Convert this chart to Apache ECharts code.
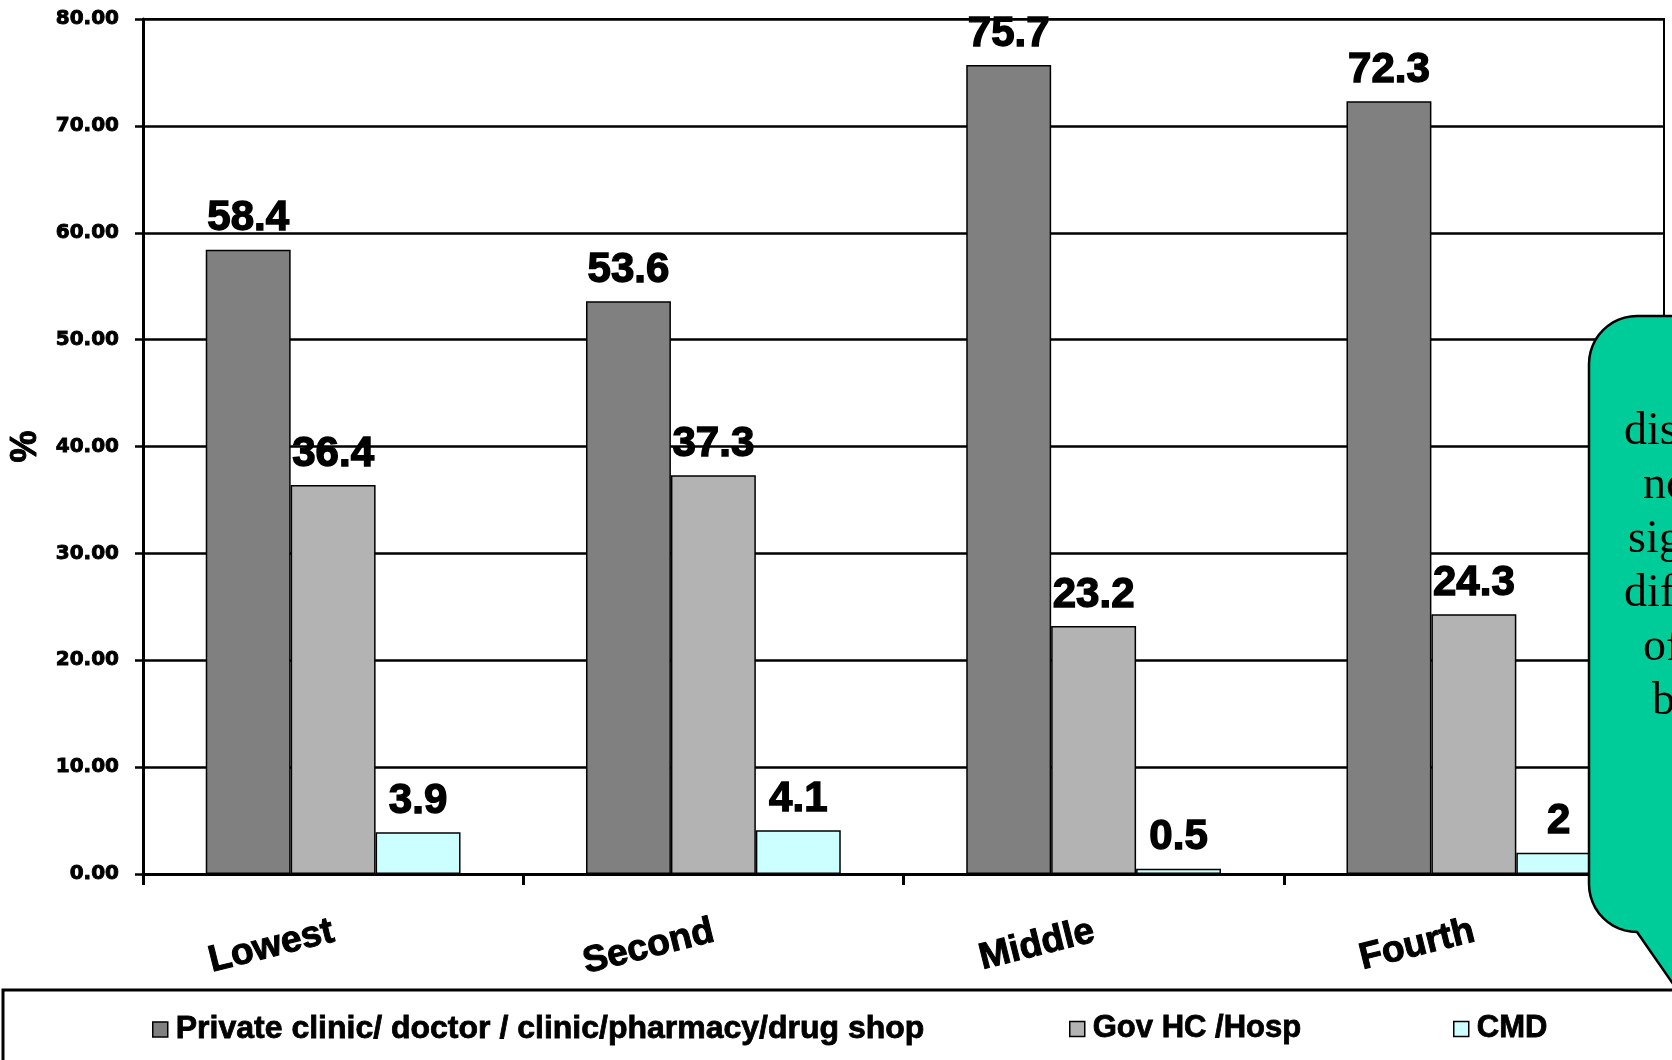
<!DOCTYPE html>
<html>
<head>
<meta charset="utf-8">
<title>Source of care by wealth quintile</title>
<script src="https://cdn.jsdelivr.net/npm/echarts@6/dist/echarts.min.js"></script>
<style>
  html, body { margin: 0; padding: 0; background: #ffffff; }
  #chart { width: 1672px; height: 1060px; }
</style>
</head>
<body>
<div id="chart"></div>
<script>
// Wealth quintiles shown on the category axis
const categories = ['Lowest', 'Second', 'Middle', 'Fourth'];

// Share (%) of each source of care per quintile
const privateShare = [58.4, 53.6, 75.7, 72.3];
const govShare = [36.4, 37.3, 23.2, 24.3];
const cmdShare = [3.9, 4.1, 0.5, 2];

// Series names as listed in the legend
const seriesNames = [
  'Private clinic/ doctor / clinic/pharmacy/drug shop',
  'Gov HC /Hosp',
  'CMD'
];

// Lines of the note in the speech bubble (runs off the right edge)
const noteLines = ['dis', 'no', 'sig', 'dif', 'of', 'b'];

const BOLD = '"Liberation Sans", Arial, sans-serif';
// Heavy black text: bold face plus a thin outline of the same colour
const heavy = (size, extra) => Object.assign({
  color: '#000',
  fontFamily: BOLD,
  fontWeight: 'bold',
  fontSize: size,
  textBorderColor: '#000',
  textBorderWidth: 1
}, extra || {});

const chart = echarts.init(document.getElementById('chart'), null, { renderer: 'canvas' });

const valueLabel = heavy(42, {
  show: true,
  position: 'top',
  distance: 10,
  textBorderWidth: 1.4,
  formatter: p => String(p.value)
});

function barSeries(name, data, color) {
  return {
    name: name,
    type: 'bar',
    data: data,
    barGap: '0%',
    barCategoryGap: '33%',
    itemStyle: { color: color, borderColor: '#000', borderWidth: 1.5 },
    label: valueLabel,
    emphasis: { disabled: true }
  };
}

function legendAt(name, left, size) {
  return {
    data: [name],
    left: left,
    top: 1013,
    padding: 0,
    icon: 'rect',
    itemWidth: 15,
    itemHeight: 15,
    itemGap: 0,
    selectedMode: false,
    itemStyle: { borderColor: '#000', borderWidth: 1.5 },
    textStyle: heavy(size, { padding: [0, 0, 0, 3], textBorderWidth: 0.8 })
  };
}

// Speech bubble outline: rounded left corners, pointer below, runs off the canvas
function arcPoints(cx, cy, r, a0, a1) {
  const pts = [];
  for (let i = 0; i <= 12; i++) {
    const a = a0 + (a1 - a0) * i / 12;
    pts.push([cx + r * Math.cos(a), cy + r * Math.sin(a)]);
  }
  return pts;
}
const R = 48;
const bubblePoints = []
  .concat(arcPoints(1589 + R, 316 + R, R, Math.PI, Math.PI * 1.5))
  .concat([[1900, 316], [1900, 932], [1760, 932], [1712, 1040], [1637, 932]])
  .concat(arcPoints(1589 + R, 932 - R, R, Math.PI * 0.5, Math.PI));

const noteX = [1624, 1643, 1628, 1624, 1643, 1652];
const noteGraphics = noteLines.map((t, i) => ({
  type: 'text',
  z: 101,
  x: noteX[i],
  y: 432 + i * 54,
  style: {
    text: t,
    fill: '#000',
    font: '46px "Liberation Serif", "Times New Roman", serif',
    textAlign: 'left',
    textVerticalAlign: 'middle'
  }
}));

chart.setOption({
  backgroundColor: '#ffffff',
  animation: false,
  grid: {
    left: 143, right: 8, top: 19, bottom: 186,
    outerBoundsMode: 'none',
    containLabel: false,
    show: true, borderColor: '#000', borderWidth: 2, backgroundColor: 'transparent'
  },
  legend: [
    legendAt(seriesNames[0], 152, 32),
    legendAt(seriesNames[1], 1069, 31),
    legendAt(seriesNames[2], 1453, 31)
  ],
  xAxis: {
    type: 'category',
    data: categories,
    axisLine: { lineStyle: { color: '#000', width: 3 } },
    axisTick: { show: true, length: 11, lineStyle: { color: '#000', width: 3 } },
    axisLabel: heavy(37, {
      interval: 0,
      rotate: 14,
      margin: 57
    }),
    splitLine: { show: false }
  },
  yAxis: {
    type: 'value',
    min: 0,
    max: 80,
    interval: 10,
    name: '%',
    nameLocation: 'middle',
    nameRotate: 90,
    nameGap: 97,
    nameTextStyle: heavy(36),
    axisLine: { show: true, lineStyle: { color: '#000', width: 3 } },
    axisTick: { show: true, length: 8, lineStyle: { color: '#000', width: 2.5 } },
    axisLabel: heavy(20, {
      margin: 24,
      fontFamily: '"DejaVu Sans", sans-serif',
      textBorderWidth: 0.9,
      formatter: v => v.toFixed(2)
    }),
    splitLine: { show: true, lineStyle: { color: '#000', width: 2.5 } }
  },
  series: [
    barSeries(seriesNames[0], privateShare, '#808080'),
    barSeries(seriesNames[1], govShare, '#b3b3b3'),
    barSeries(seriesNames[2], cmdShare, '#ccffff')
  ],
  graphic: [
    {
      type: 'rect',
      z: 50,
      silent: true,
      shape: { x: 3, y: 990, width: 1700, height: 100 },
      style: { fill: 'none', stroke: '#000', lineWidth: 3 }
    },
    {
      type: 'polygon',
      z: 100,
      silent: true,
      shape: { points: bubblePoints },
      style: { fill: '#00cc99', stroke: '#000', lineWidth: 2.5 }
    }
  ].concat(noteGraphics)
});
</script>
</body>
</html>
